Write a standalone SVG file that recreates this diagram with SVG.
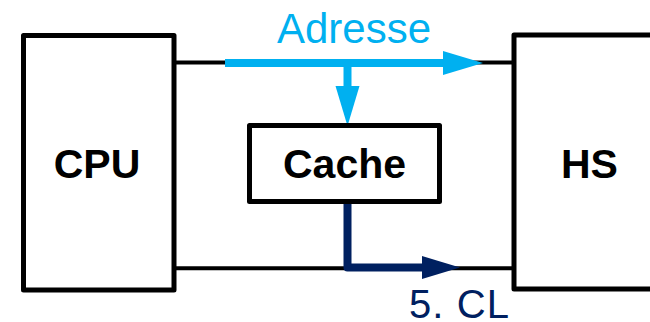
<svg xmlns="http://www.w3.org/2000/svg" width="650" height="322" viewBox="0 0 650 322">
<defs>
<style>
.box{fill:#fff;stroke:#000;stroke-width:5;stroke-linejoin:round}
.lbl{font-family:"Liberation Sans",Arial,sans-serif;font-weight:bold;font-size:41px;fill:#000;text-anchor:middle}
.bus{stroke:#000;stroke-width:4;fill:none}
.addr{stroke:#00B0F0;stroke-width:8;fill:none}
.cl{stroke:#002060;stroke-width:8;fill:none;stroke-linejoin:round}
.t{font-family:"Liberation Sans",Arial,sans-serif;font-size:42px}
</style>
</defs>
<rect width="650" height="322" fill="#fff"/>
<g id="connectors">
<line class="bus" x1="174" y1="62.5" x2="514" y2="62.5"/>
<line class="bus" x1="174" y1="268.3" x2="514" y2="268.3"/>
<g id="adresse">
<line class="addr" x1="225" y1="63" x2="446" y2="63"/>
<polygon points="443,51 483,63 443,75" fill="#00B0F0"/>
<line class="addr" x1="347.5" y1="63" x2="347.5" y2="89"/>
<polygon points="335.5,86 359.5,86 347.5,126" fill="#00B0F0"/>
<text class="t" x="354" y="43" text-anchor="middle" fill="#00B0F0">Adresse</text>
</g>
<g id="cl">
<polyline class="cl" points="347.5,203 347.5,267.5 425,267.5"/>
<polygon points="422,256 460,267.5 422,279" fill="#002060"/>
<text class="t" x="409" y="318" fill="#002060" style="font-size:40px" textLength="100" lengthAdjust="spacing">5. CL</text>
</g>
</g>
<g id="cpu">
<rect class="box" x="23.5" y="35.5" width="150.5" height="254.5"/>
<text class="lbl" x="97" y="178">CPU</text>
</g>
<g id="hs">
<rect class="box" x="514" y="35" width="160" height="254"/>
<text class="lbl" x="589.5" y="178">HS</text>
</g>
<g id="cache">
<rect class="box" x="249.5" y="125.5" width="190" height="76"/>
<text class="lbl" x="344.5" y="178">Cache</text>
</g>
</svg>
